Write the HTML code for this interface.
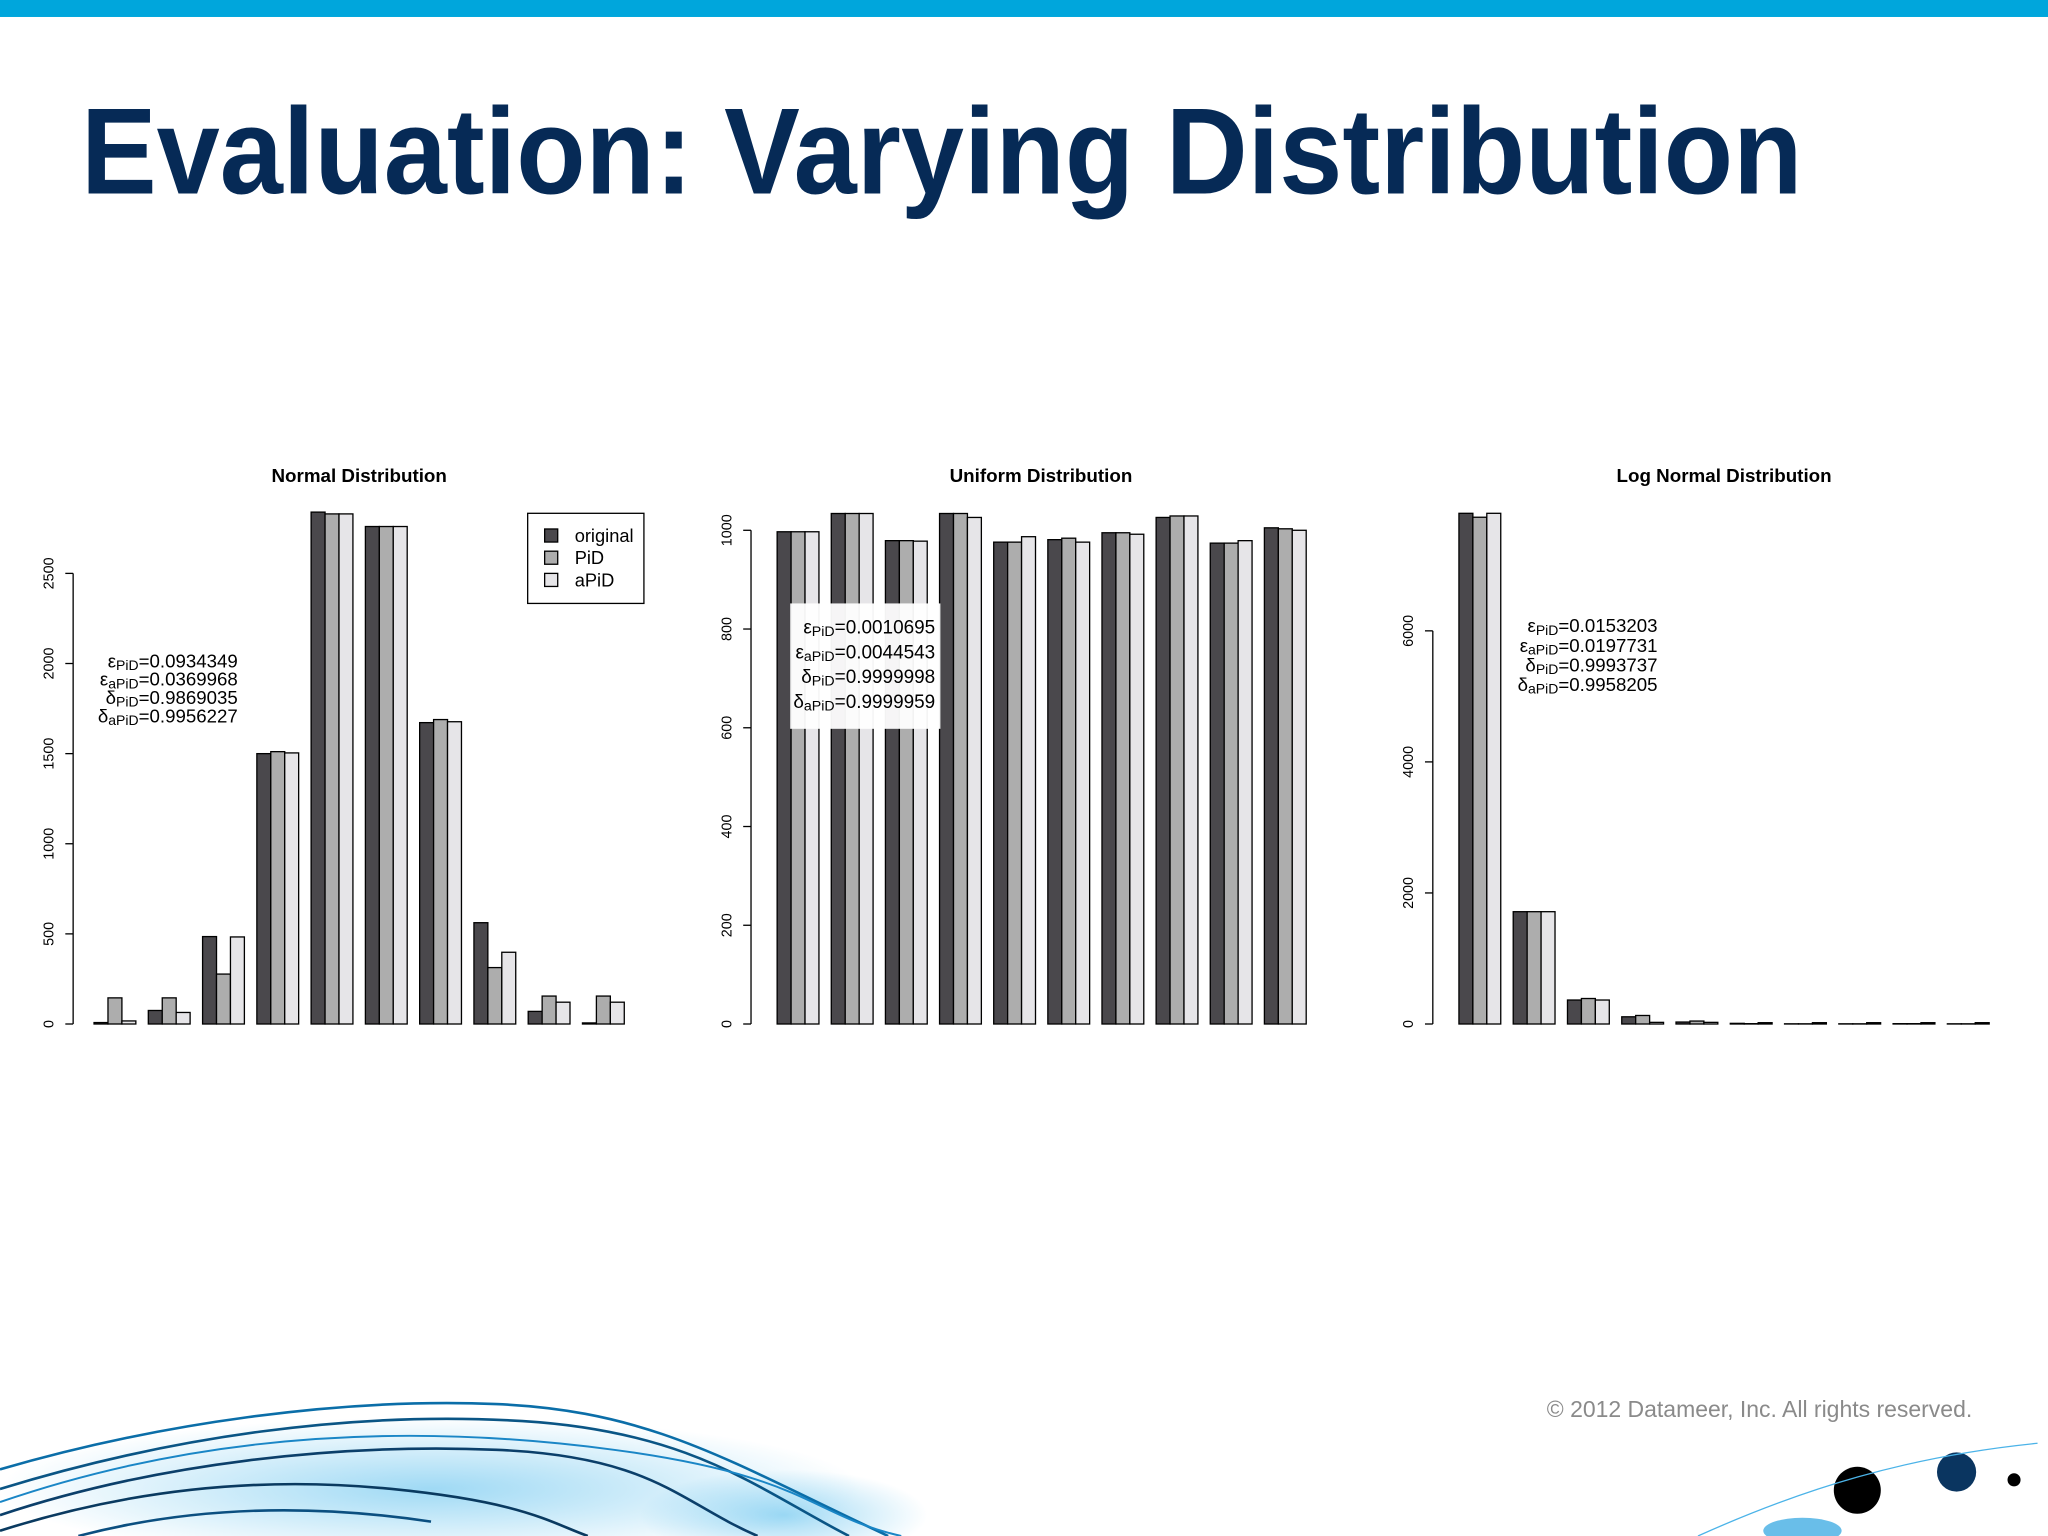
<!DOCTYPE html>
<html><head><meta charset="utf-8"><style>
html,body{margin:0;padding:0;background:#fff;}
svg{display:block;}
text{font-family:"Liberation Sans",sans-serif;}
</style></head><body>
<svg id="slide" width="2048" height="1536" viewBox="0 0 1568 1176" xmlns="http://www.w3.org/2000/svg">
<defs>
<radialGradient id="glow" cx="0.5" cy="0.5" r="0.5"><stop offset="0" stop-color="#3fb4ea" stop-opacity="0.5"/><stop offset="1" stop-color="#3fb4ea" stop-opacity="0"/></radialGradient>
</defs>
<rect x="0" y="0" width="1568" height="13" fill="#00a6dc"/>
<text x="62" y="148" font-size="94" font-weight="bold" fill="#062a56" textLength="1318" lengthAdjust="spacingAndGlyphs">Evaluation: Varying Distribution</text>

<g fill="none">
<ellipse cx="330" cy="1140" rx="330" ry="55" fill="url(#glow)"/>
<ellipse cx="600" cy="1160" rx="110" ry="35" fill="url(#glow)"/>
<path d="M0,1125 C120,1090 260,1070 380,1075 S560,1120 680,1176" stroke="#0b6ea8" stroke-width="2"/>
<path d="M0,1140 C130,1100 270,1080 400,1088 S580,1140 650,1176" stroke="#0a5585" stroke-width="2"/>
<path d="M0,1160 C120,1120 260,1105 380,1110 S520,1150 580,1176" stroke="#0b3f6a" stroke-width="2"/>
<path d="M0,1172 C100,1140 200,1130 300,1140 S420,1165 450,1176" stroke="#0a3a60" stroke-width="2"/>
<path d="M60,1176 C140,1155 230,1150 330,1165" stroke="#0b4f80" stroke-width="2"/>
<path d="M0,1150 C160,1095 320,1090 470,1110 S620,1160 690,1176" stroke="#1a86c6" stroke-width="1.5"/>
<circle cx="1422" cy="1141" r="18" fill="#000"/>
<circle cx="1498" cy="1127" r="15" fill="#0a3560"/>
<circle cx="1542" cy="1133" r="5" fill="#000"/>
<ellipse cx="1380" cy="1172" rx="30" ry="10" fill="#2aa3e0" opacity="0.7"/>
<path d="M1300,1176 C1380,1140 1460,1115 1560,1105" stroke="#4bb3e8" stroke-width="1"/>
</g>
<text x="1510" y="1085" text-anchor="end" font-size="17.6" fill="#8a8a8a">© 2012 Datameer, Inc. All rights reserved.</text>
<g id="charts"></g>
</svg>
<script>
// Normal distribution values
const normalOriginal = [8, 75, 485, 1500, 2840, 2760, 1672, 562, 70, 6];
const normalPiD      = [145, 145, 277, 1511, 2830, 2760, 1689, 313, 155, 155];
const normalAPiD     = [17, 64, 483, 1504, 2830, 2760, 1677, 398, 121, 121];
const normalTicks    = [0, 500, 1000, 1500, 2000, 2500];
const normalStats    = ["0.0934349", "0.0369968", "0.9869035", "0.9956227"];
// Uniform distribution values
const uniformOriginal = [997, 1034, 979, 1034, 976, 981, 995, 1026, 974, 1005];
const uniformPiD      = [997, 1034, 979, 1034, 976, 984, 995, 1029, 974, 1003];
const uniformAPiD     = [997, 1034, 978, 1026, 987, 976, 992, 1029, 979, 1000];
const uniformTicks    = [0, 200, 400, 600, 800, 1000];
const uniformStats    = ["0.0010695", "0.0044543", "0.9999998", "0.9999959"];
// Log normal distribution values
const logOriginal = [7794, 1714, 366, 110, 30, 10, 3, 3, 5, 3];
const logPiD      = [7734, 1714, 389, 130, 45, 5, 3, 3, 5, 3];
const logAPiD     = [7794, 1714, 366, 25, 25, 20, 20, 20, 20, 20];
const logTicks    = [0, 2000, 4000, 6000];
const logStats    = ["0.0153203", "0.0197731", "0.9993737", "0.9958205"];
const statLabels  = [["ε","PiD"],["ε","aPiD"],["δ","PiD"],["δ","aPiD"]];

const NS = "http://www.w3.org/2000/svg";
const root = document.getElementById("charts");
const colors = ["#4a484c", "#adadad", "#e6e5e8"];
function mk(tag, attrs, parent){const e=document.createElementNS(NS,tag);for(const k in attrs)e.setAttribute(k,attrs[k]);(parent||root).appendChild(e);return e;}

const charts = [
  {name:"normal", title:"Normal Distribution", series:[normalOriginal,normalPiD,normalAPiD], ticks:normalTicks, stats:normalStats,
   axisX:56, y0:784, yTop:439, vTop:2500, barStart:72, pitch:41.55, titleX:275, statX:182, statY:511, statDy:14, statFs:14.3, box:null, legend:true},
  {name:"uniform", title:"Uniform Distribution", series:[uniformOriginal,uniformPiD,uniformAPiD], ticks:uniformTicks, stats:uniformStats,
   axisX:575, y0:784, yTop:406, vTop:1000, barStart:595, pitch:41.45, titleX:797, statX:716, statY:485, statDy:19, statFs:14.5, box:[605,462,115,96], legend:false},
  {name:"lognormal", title:"Log Normal Distribution", series:[logOriginal,logPiD,logAPiD], ticks:logTicks, stats:logStats,
   axisX:1097, y0:784, yTop:483, vTop:6000, barStart:1117, pitch:41.55, titleX:1320, statX:1269, statY:484, statDy:15, statFs:14.3, box:null, legend:false}
];
const bw = 10.67;

charts.forEach(c=>{
  const g = mk("g",{});
  
  
  const y = v => c.y0 - (v/c.vTop)*(c.y0-c.yTop);
  const x = (i,s) => c.barStart + i*c.pitch + s*bw;
  const t = mk("text",{x:c.titleX,y:369,"text-anchor":"middle","font-size":14.4,"font-weight":"bold",fill:"#000"},g);
  t.textContent = c.title;
  
  
  const ax = mk("line",{x1:c.axisX,x2:c.axisX,y1:y(c.ticks[0]),y2:y(c.ticks[c.ticks.length-1]),stroke:"#000","stroke-width":1},g);
  
  
  c.ticks.forEach(v=>{
    mk("line",{x1:c.axisX-6,x2:c.axisX,y1:y(v),y2:y(v),stroke:"#000","stroke-width":1},g);
    const tl = mk("text",{x:0,y:0,"font-size":11,"text-anchor":"middle",fill:"#000",transform:`translate(${c.axisX-15},${y(v)}) rotate(-90)`},g);
    tl.textContent = v;
    
    
  });
  c.series.forEach((arr,s)=>{
    arr.forEach((v,i)=>{
      const r = mk("rect",{x:x(i,s),y:y(v),width:bw,height:c.y0-y(v),fill:colors[s],stroke:"#000","stroke-width":1},g);
      
      
    });
  });
  if(c.box){
    const b = mk("rect",{x:c.box[0],y:c.box[1],width:c.box[2],height:c.box[3],fill:"#fff",opacity:0.95},g);
    
    
  }
  c.stats.forEach((val,k)=>{
    const st = mk("text",{x:c.statX,y:c.statY+k*c.statDy,"text-anchor":"end","font-size":c.statFs,fill:"#000"},g);
    
    
    const a = mk("tspan",{},st); a.textContent = statLabels[k][0];
    const sub = mk("tspan",{"font-size":c.statFs*0.75,dy:2},st); sub.textContent = statLabels[k][1];
    const rest = mk("tspan",{dy:-2},st); rest.textContent = "=" + val;
  });
  if(c.legend){
    const lg = mk("g",{},g);
    
    
    mk("rect",{x:404,y:393,width:89,height:69,fill:"#fff",stroke:"#000","stroke-width":1},lg);
    ["original","PiD","aPiD"].forEach((n,s)=>{
      const e = mk("g",{},lg);
      
      
      mk("rect",{x:417,y:405+s*17,width:10,height:10,fill:colors[s],stroke:"#000","stroke-width":1},e);
      const lt = mk("text",{x:440,y:415+s*17,"font-size":14,fill:"#000"},e);
      lt.textContent = n;
    });
  }
});
</script>
</body></html>
